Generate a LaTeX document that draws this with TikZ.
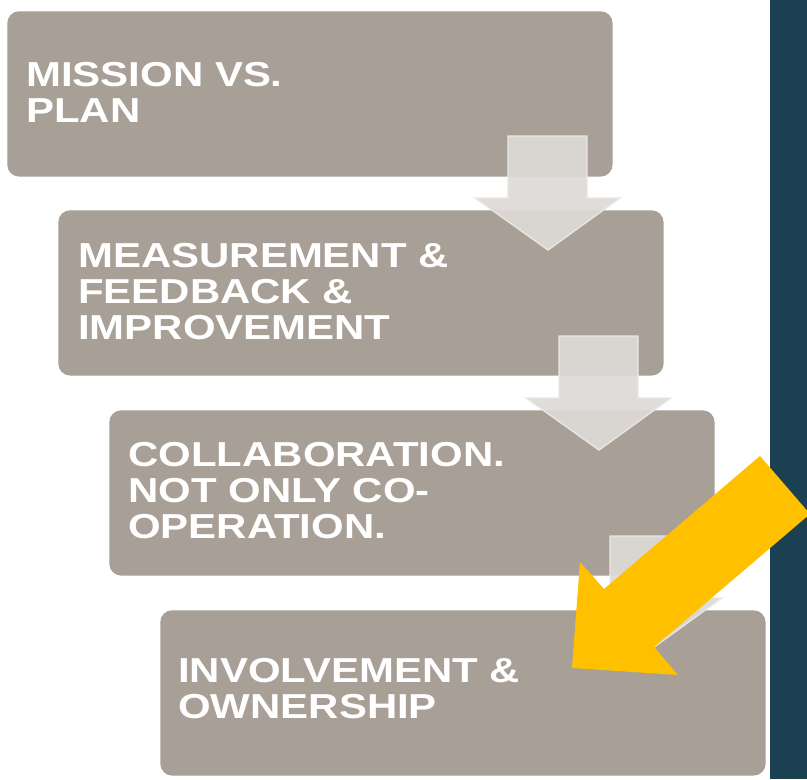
\documentclass[tikz,border=0pt]{standalone}
\usepackage{fontspec}
\setmainfont{Liberation Sans}[FakeStretch=1.21]
\definecolor{boxc}{HTML}{A89F96}
\definecolor{arrowc}{HTML}{DEDAD6}
\definecolor{arrowedge}{HTML}{E9E7E4}
\definecolor{panelc}{HTML}{1B4052}
\definecolor{yellowc}{HTML}{FFC000}
\begin{document}
\begin{tikzpicture}[x=0.75pt,y=-0.75pt,
  stepbox/.style={fill=boxc, draw=none, rounded corners=9pt, anchor=north west,
    minimum width=454pt, minimum height=124pt, inner sep=0pt},
  steptext/.style={anchor=north west, align=left, inner sep=0pt, text=white,
    font=\bfseries\fontsize{26pt}{27pt}\selectfont},
  downarrow/.style={fill=arrowc, draw=arrowedge, line width=1pt, fill opacity=0.92},
  bigarrow/.style={fill=yellowc, draw=none}]
\useasboundingbox (0,0) rectangle (807,779);
\fill[white] (0,0) rectangle (807,779);
% right panel
\fill[panelc] (770,0) rectangle (807,779);
% boxes
\node[stepbox] (b1) at (7,11) {};
\node[stepbox] (b2) at (58,210) {};
\node[stepbox] (b3) at (109,410) {};
\node[stepbox] (b4) at (160,610) {};
% texts
\node[steptext] (t1) at (26,62) {MISSION VS.\\PLAN};
\node[steptext] (t2) at (78,243) {MEASUREMENT \&\\FEEDBACK \&\\IMPROVEMENT};
\node[steptext] (t3) at (128,442) {COLLABORATION.\\NOT ONLY CO-\\OPERATION.};
\node[steptext] (t4) at (178,658) {INVOLVEMENT \&\\OWNERSHIP};
% down arrows
\foreach \i in {0,1,2}{
  \begin{scope}[shift={(51*\i,200*\i)}]
    \path[downarrow] (508,136) -- (587,136) -- (587,198) -- (620,198) -- (548,250)
      -- (475,198) -- (508,198) -- cycle;
  \end{scope}
}
% yellow arrow
\path[bigarrow] (760,456) -- (810,514) -- (654,647) -- (678,675) -- (572,668)
  -- (580,562) -- (604,589) -- cycle;
\end{tikzpicture}
\end{document}
